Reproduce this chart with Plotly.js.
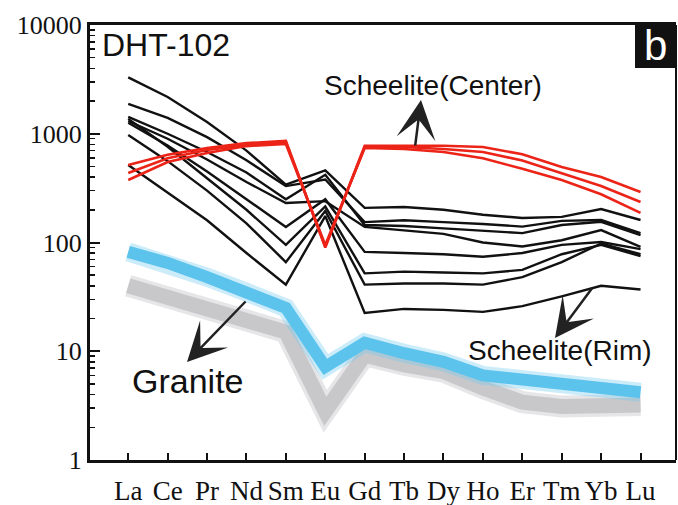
<!DOCTYPE html>
<html>
<head>
<meta charset="utf-8">
<script src="https://cdn.plot.ly/plotly-3.0.1.min.js"></script>
<style>html,body{margin:0;padding:0;background:#fff;}#chart{width:678px;height:505px;}</style>
</head>
<body>
<div id="chart"></div>
<script>
// REE categories (chondrite-normalized spider diagram)
const ree = ['La','Ce','Pr','Nd','Sm','Eu','Gd','Tb','Dy','Ho','Er','Tm','Yb','Lu'];

// Scheelite (Rim) – black lines
const rim1 = [3300, 2180, 1280, 700, 340, 460, 208, 212, 200, 180, 168, 172, 203, 161];
const rim2 = [1880, 1400, 930, 570, 330, 380, 154, 160, 154, 148, 140, 158, 161, 122];
const rim3 = [1430, 1000, 680, 440, 250, 420, 145, 142, 135, 128, 122, 145, 155, 117];
const rim4 = [1310, 900, 580, 360, 231, 240, 139, 130, 120, 100, 92, 105, 130, 91];
const rim5 = [1260, 780, 450, 250, 139, 250, 82, 80, 78, 74, 80, 95, 101, 87];
const rim6 = [1370, 760, 390, 200, 95, 215, 52, 54, 53, 52, 56, 78, 95, 75];
const rim7 = [975, 560, 300, 150, 66, 195, 41, 42, 42, 41, 48, 66, 98, 78];
const rim8 = [516, 290, 160, 80, 41, 175, 22.5, 24.5, 24, 23, 26, 32, 40, 37];

// Scheelite (Center) – red lines
const center1 = [516, 640, 740, 820, 860, 90, 775, 775, 775, 755, 648, 494, 400, 291];
const center2 = [436, 595, 710, 790, 837, 92, 755, 755, 725, 680, 568, 436, 331, 236];
const center3 = [376, 550, 665, 770, 806, 95, 740, 725, 680, 595, 476, 376, 278, 187];

// Granite bands
const graniteBlue = [82, 65, 48, 35, 25, 7.2, 12, 9.6, 8.0, 6.0, 5.4, 4.9, 4.6, 4.2];
const graniteGray = [40, 31, 24, 18, 15, 2.8, 9.2, 7.5, 6.5, 4.6, 3.4, 3.1, 3.1, 3.2];

const yTickVals = [1, 10, 100, 1000, 10000];
const yTickText = ['1', '10', '100', '1000', '10000'];

const minorVals = [];
for (const d of [1, 10, 100, 1000]) for (let k = 2; k <= 9; k++) minorVals.push(k * d);

function band(y, color, width) {
  return {x: ree, y: y, type: 'scatter', mode: 'lines', hoverinfo: 'skip',
          line: {color: color, width: width, shape: 'linear'}};
}

const traces = [];
traces.push(band(graniteGray, 'rgba(200,200,204,0.45)', 22));
traces.push(band(graniteGray, '#c8c8cb', 15));
traces.push(band(graniteBlue, 'rgba(110,200,240,0.35)', 19));
traces.push(band(graniteBlue, '#5cc3ec', 12));
for (const r of [rim1, rim2, rim3, rim4, rim5, rim6, rim7, rim8]) traces.push(band(r, '#111111', 2.4));
for (const c of [center1, center2, center3]) traces.push(band(c, '#ec2418', 2.6));

const serif = "'Liberation Serif', 'Times New Roman', Times, serif";
const sans = "'Liberation Sans', Arial, sans-serif";

// plot area pixel helpers for annotation placement
const L = 90, T = 25, W = 586, H = 435;
const px = v => (v - L) / W;
const py = v => (T + H - v) / H;

const arrowStyle = {text: '', showarrow: true, arrowhead: 3, arrowsize: 2.6, arrowwidth: 2.5,
                    arrowcolor: '#222', standoff: 0, axref: 'pixel', ayref: 'pixel', xref: 'paper', yref: 'paper'};

const layout = {
  width: 678, height: 505,
  margin: {l: L, r: 678 - L - W, t: T, b: 505 - T - H, pad: 0},
  paper_bgcolor: '#ffffff', plot_bgcolor: '#ffffff',
  showlegend: false,
  xaxis: {
    type: 'category', range: [-0.97, 13.9],
    showline: true, linewidth: 3, linecolor: '#111', mirror: true,
    ticks: 'inside', ticklen: 7, tickwidth: 2, tickcolor: '#111',
    tickfont: {family: serif, size: 27, color: '#111'},
    ticklabelstandoff: 5,
    showgrid: false, zeroline: false, fixedrange: true
  },
  yaxis: {
    type: 'log', range: [0, 4],
    tickmode: 'array', tickvals: yTickVals, ticktext: yTickText,
    showline: true, linewidth: 3, linecolor: '#111',
    ticks: 'inside', ticklen: 10, tickwidth: 2, tickcolor: '#111',
    tickfont: {family: serif, size: 26, color: '#111'},
    minor: {tickmode: 'array', tickvals: minorVals, ticks: 'inside', ticklen: 5, tickwidth: 1.5, tickcolor: '#111', showgrid: false},
    showgrid: false, zeroline: false, fixedrange: true
  },
  shapes: [
    {type: 'line', xref: 'paper', yref: 'paper', x0: 1, x1: 1, y0: 0, y1: 1, line: {color: '#111', width: 2}},
    {type: 'rect', xref: 'paper', yref: 'paper', x0: px(635), x1: 1, y0: py(68), y1: 1, fillcolor: '#111', line: {width: 0}}
  ],
  annotations: [
    {xref: 'paper', yref: 'paper', x: px(100), y: py(45), xanchor: 'left', yanchor: 'middle', showarrow: false,
     text: 'DHT-102', font: {family: sans, size: 32, color: '#111'}},
    {xref: 'paper', yref: 'paper', x: px(655), y: py(45), xanchor: 'center', yanchor: 'middle', showarrow: false,
     text: 'b', font: {family: sans, size: 42, color: '#ffffff'}},
    {xref: 'paper', yref: 'paper', x: px(433), y: py(85), xanchor: 'center', yanchor: 'middle', showarrow: false,
     text: 'Scheelite(Center)', font: {family: sans, size: 28, color: '#111'}},
    {xref: 'paper', yref: 'paper', x: px(560), y: py(350), xanchor: 'center', yanchor: 'middle', showarrow: false,
     text: 'Scheelite(Rim)', font: {family: sans, size: 28, color: '#111'}},
    {xref: 'paper', yref: 'paper', x: px(188), y: py(381), xanchor: 'center', yanchor: 'middle', showarrow: false,
     text: 'Granite', font: {family: sans, size: 34, color: '#111'}},
    Object.assign({x: px(421), y: py(100), ax: -6, ay: 47}, arrowStyle),
    Object.assign({x: px(187), y: py(362), ax: 60, ay: -62}, arrowStyle),
    Object.assign({x: px(555), y: py(338), ax: 38, ay: -51}, arrowStyle)
  ]
};

Plotly.newPlot('chart', traces, layout, {displayModeBar: false, staticPlot: true});
</script>
</body>
</html>
